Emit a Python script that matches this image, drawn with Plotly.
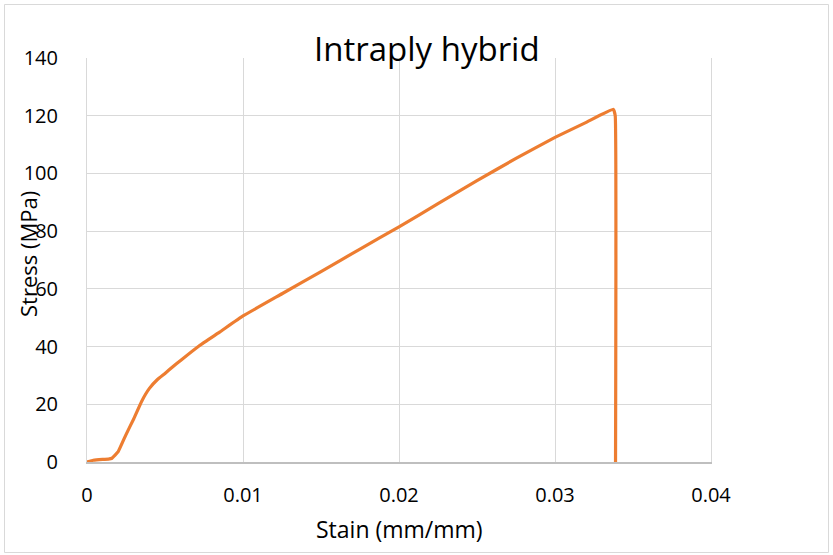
import plotly.graph_objects as go

strain = [0.0, 0.0004, 0.0010, 0.00137, 0.0016, 0.0020, 0.0025, 0.0030, 0.0035, 0.0040,
          0.0045, 0.0050, 0.0055, 0.0060, 0.0072, 0.0085, 0.0100, 0.0125, 0.0150, 0.0175,
          0.0200, 0.0225, 0.0250, 0.0275, 0.0300, 0.0320, 0.03374, 0.03386, 0.03388]
stress = [0.0, 0.6, 0.9, 1.0, 1.3, 3.6, 9.5, 15.0, 21.0, 25.5,
          28.5, 30.7, 33.0, 35.2, 40.3, 45.0, 50.6, 58.3, 66.0, 73.8,
          81.5, 89.5, 97.5, 105.2, 112.5, 117.7, 122.2, 120.0, 0.0]

x_ticks = [0, 0.01, 0.02, 0.03, 0.04]
x_tick_labels = ["0", "0.01", "0.02", "0.03", "0.04"]
y_ticks = [0, 20, 40, 60, 80, 100, 120, 140]

FONT = "Open Sans"

fig = go.Figure()
fig.add_trace(go.Scatter(x=strain, y=stress, mode="lines",
                         line=dict(color="#ED7D31", width=3.2, shape="spline", smoothing=0.3),
                         showlegend=False))

L, R, T, B = 87, 122, 58, 93
W, H = 833, 555
pw, ph = W - L - R, H - T - B

def px(xp):
    return (xp - L) / pw

def py(yp):
    return (H - B - yp) / ph

fig.update_layout(
    width=W, height=H,
    margin=dict(l=L, r=R, t=T, b=B, pad=0),
    paper_bgcolor="white", plot_bgcolor="white",
    font=dict(family=FONT, color="#000000", size=20),
    xaxis=dict(range=[0, 0.04], tickvals=x_ticks, ticktext=x_tick_labels,
               showgrid=True, gridcolor="#D9D9D9", gridwidth=1,
               showline=True, linecolor="#BFBFBF", linewidth=1.5,
               zeroline=False, ticks="", ticklabelstandoff=14,
               tickfont=dict(size=20, family=FONT, color="#000000")),
    yaxis=dict(range=[0, 140], tickvals=y_ticks,
               showgrid=True, gridcolor="#D9D9D9", gridwidth=1,
               showline=True, linecolor="#D9D9D9", linewidth=1, mirror=True,
               zeroline=False, ticks="", ticklabelstandoff=24,
               tickfont=dict(size=20, family=FONT, color="#000000")),
    annotations=[
        dict(text="Intraply hybrid", x=px(427), y=py(49), xref="paper", yref="paper",
             xanchor="center", yanchor="middle", showarrow=False,
             font=dict(size=33, family=FONT, color="#000000")),
        dict(text="Stain (mm/mm)", x=px(399), y=py(529), xref="paper", yref="paper",
             xanchor="center", yanchor="middle", showarrow=False,
             font=dict(size=23, family=FONT, color="#000000")),
        dict(text="Stress (MPa)", x=px(28), y=py(254), xref="paper", yref="paper",
             xanchor="center", yanchor="middle", showarrow=False, textangle=-90,
             font=dict(size=22, family=FONT, color="#000000")),
    ],
    shapes=[dict(type="rect", xref="paper", yref="paper",
                 x0=px(4.5), x1=px(828.5), y0=py(552.5), y1=py(4.5),
                 line=dict(color="#D9D9D9", width=1), layer="below")],
)

fig.write_html("out.html")
